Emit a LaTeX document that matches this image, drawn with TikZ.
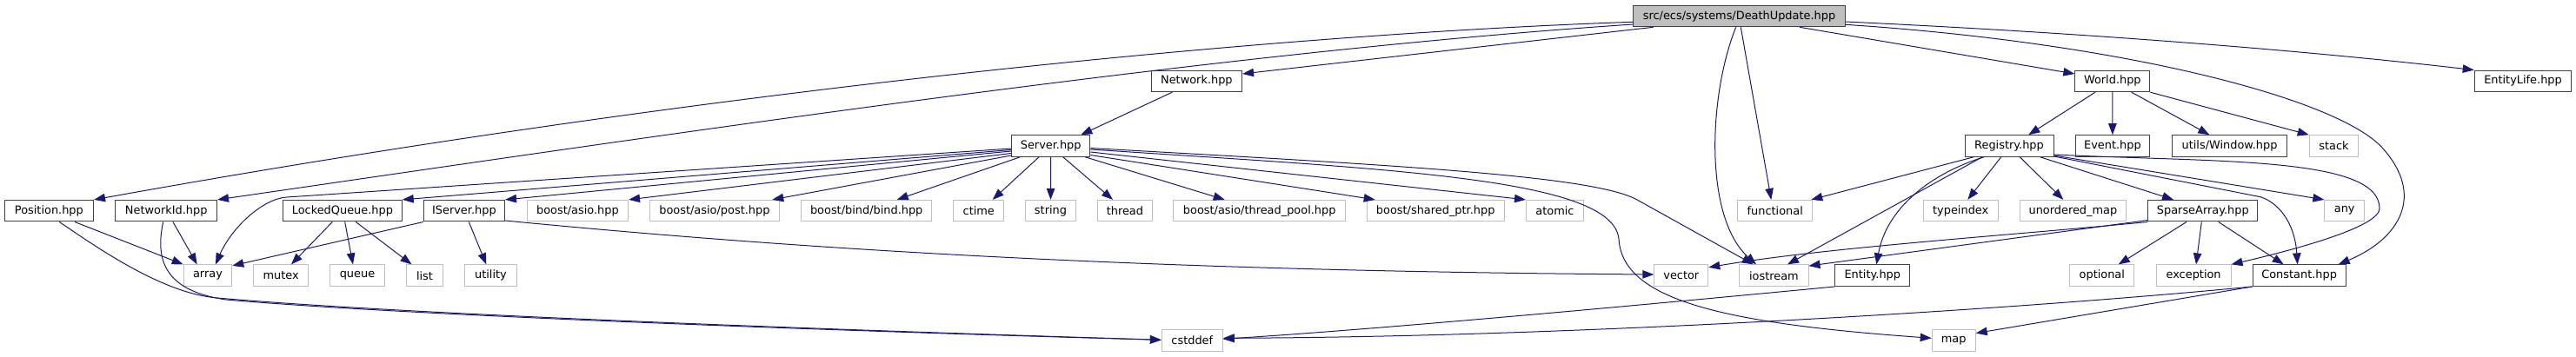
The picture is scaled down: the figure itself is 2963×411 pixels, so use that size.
\documentclass[tikz,border=0pt]{standalone}
\usepackage{fontspec}
\newfontfamily\dv{DejaVu Sans}
\usetikzlibrary{arrows.meta}
\definecolor{edgec}{HTML}{191970}
\definecolor{extc}{HTML}{BFBFBF}
\definecolor{docc}{HTML}{404040}
\definecolor{mainfill}{HTML}{BFBFBF}
\tikzset{
  box/.style={line width=1pt, minimum height=24.6pt, inner sep=0pt, font=\dv\fontsize{12.9}{15}\selectfont, text=black, anchor=center},
  doc/.style={box, draw=docc, fill=white},
  ext/.style={box, draw=extc, fill=white},
  mainnode/.style={box, draw=docc, fill=mainfill},
  e/.style={draw=edgec, line width=1pt, -{Triangle[length=13pt,width=9.5pt]}},
}
\begin{document}
\begin{tikzpicture}[x=1pt,y=-1pt]
\useasboundingbox (0,0) rectangle (2963,411);
% row 0
\node[mainnode, minimum width=243.4pt] (main) at (2000.5,18.5) {src/ecs/systems/DeathUpdate.hpp};
% row 1
\node[doc, minimum width=104.3pt] (network) at (1376.4,93.4) {Network.hpp};
\node[doc, minimum width=86pt] (world) at (2429.8,93.4) {World.hpp};
\node[doc, minimum width=111.6pt] (entitylife) at (2902,93.4) {EntityLife.hpp};
% row 2
\node[doc, minimum width=90.3pt] (server) at (1208.7,168) {Server.hpp};
\node[doc, minimum width=102pt] (registry) at (2311,168) {Registry.hpp};
\node[doc, minimum width=85.8pt] (event) at (2429.9,168) {Event.hpp};
\node[doc, minimum width=132.5pt] (window) at (2564.5,168) {utils/Window.hpp};
\node[ext, minimum width=56.6pt] (stack) at (2684.5,168) {stack};
% row 3
\node[doc, minimum width=102.3pt] (pos) at (56.4,242.7) {Position.hpp};
\node[doc, minimum width=116.7pt] (netid) at (191.2,242.7) {NetworkId.hpp};
\node[doc, minimum width=136.7pt] (lq) at (393.9,242.7) {LockedQueue.hpp};
\node[doc, minimum width=93.3pt] (iserver) at (533.9,242.7) {IServer.hpp};
\node[ext, minimum width=116.3pt] (asio) at (664.4,242.7) {boost/asio.hpp};
\node[ext, minimum width=148.7pt] (post) at (821.9,242.7) {boost/asio/post.hpp};
\node[ext, minimum width=149.7pt] (bind) at (996.7,242.7) {boost/bind/bind.hpp};
\node[ext, minimum width=58pt] (ctime) at (1125.8,242.7) {ctime};
\node[ext, minimum width=58pt] (string) at (1208.5,242.7) {string};
\node[ext, minimum width=63.3pt] (thread) at (1293.9,242.7) {thread};
\node[ext, minimum width=198.3pt] (threadpool) at (1448.7,242.7) {boost/asio/thread\_pool.hpp};
\node[ext, minimum width=158pt] (sharedptr) at (1651.2,242.7) {boost/shared\_ptr.hpp};
\node[ext, minimum width=66pt] (atomic) at (1788.5,242.7) {atomic};
\node[ext, minimum width=85.7pt] (functional) at (2041.7,242.7) {functional};
\node[ext, minimum width=86pt] (typeindex) at (2255.2,242.7) {typeindex};
\node[ext, minimum width=122.8pt] (umap) at (2384.4,242.7) {unordered\_map};
\node[doc, minimum width=126pt] (sparse) at (2533.8,242.7) {SparseArray.hpp};
\node[ext, minimum width=45.7pt] (any) at (2696.7,242.7) {any};
% row 4
\node[ext, minimum width=55.6pt] (array) at (239,317.2) {array};
\node[ext, minimum width=63.3pt] (mutex) at (323.2,317.2) {mutex};
\node[ext, minimum width=62.4pt] (queue) at (411,317.2) {queue};
\node[ext, minimum width=42pt] (list) at (488.5,317.2) {list};
\node[ext, minimum width=59.4pt] (utility) at (564.5,317.2) {utility};
\node[ext, minimum width=62pt] (vector) at (1933.8,317.2) {vector};
\node[ext, minimum width=79.2pt] (iostream) at (2040.4,317.2) {iostream};
\node[doc, minimum width=86pt] (entity) at (2153.8,317.2) {Entity.hpp};
\node[ext, minimum width=74pt] (optional) at (2417.8,317.2) {optional};
\node[ext, minimum width=85.8pt] (exception) at (2523.1,317.2) {exception};
\node[doc, minimum width=107.2pt] (constant) at (2644.6,317.2) {Constant.hpp};
% row 5
\node[ext, minimum width=69.9pt] (cstddef) at (1371.3,391.8) {cstddef};
\node[ext, minimum width=50pt] (map) at (2247.2,391.8) {map};

% main edges
\draw[e] ([yshift=-6.8pt]main.west) .. controls (1450,40) and (800,105) .. (pos.north east);
\draw[e] ([yshift=-9.5pt]main.west) .. controls (1400,60) and (800,150) .. (netid.north east);
\draw[e] ([xshift=-98.8pt]main.south) -- ([yshift=8.4pt]network.east);
\draw[e] ([xshift=1.8pt]main.south) -- ([xshift=-4.4pt]functional.north);
\draw[e] ([xshift=-3.8pt]main.south) .. controls (1965,110) and (1960,250) .. ([xshift=-20.4pt]iostream.north);
\draw[e] ([xshift=69.5pt]main.south) -- ([yshift=8.4pt]world.west);
\draw[e] ([yshift=-6.5pt]main.east) .. controls (2400,38) and (2650,58) .. (entitylife.north west);
\draw[e] ([yshift=-9.8pt]main.east) .. controls (2450,50) and (2690,115) .. (2740,170) .. controls (2790,225) and (2760,275) .. ([xshift=45.1pt]constant.north);
% network
\draw[e] ([xshift=-28.1pt]network.south) -- ([xshift=34.6pt]server.north);
% server
\draw[e] ([yshift=-3pt]server.west) -- (330,227) .. controls (300,229) and (265,265) .. ([xshift=9pt]array.north);
\draw[e] ([yshift=-4.5pt]server.west) -- (lq.north east);
\draw[e] ([yshift=-6pt]server.west) -- (iserver.north east);
\draw[e] ([yshift=-8.5pt]server.west) -- (asio.north east);
\draw[e] ([yshift=-11pt]server.west) -- ([xshift=66.4pt]post.north);
\draw[e] ([xshift=-35.4pt]server.south) -- ([xshift=35pt]bind.north);
\draw[e] ([xshift=-13.7pt]server.south) -- ([xshift=15.9pt]ctime.north);
\draw[e] (server.south) -- (string.north);
\draw[e] ([xshift=14pt]server.south) -- ([xshift=-13.9pt]thread.north);
\draw[e] ([xshift=39.6pt]server.south) -- ([xshift=-40pt]threadpool.north);
\draw[e] ([yshift=-10.5pt]server.east) -- ([xshift=-69.5pt]sharedptr.north);
\draw[e] ([yshift=-7pt]server.east) -- (atomic.north west);
\draw[e] ([yshift=-2.5pt]server.east) .. controls (1600,190) and (1833,202) .. (1883,230) -- ([xshift=-23.7pt]iostream.north);
\draw[e] ([yshift=-4pt]server.east) .. controls (1600,195) and (1855,205) .. (1862,275) .. controls (1866,345) and (1980,372) .. ([yshift=2.5pt]map.west);
% position, networkid
\draw[e] ([xshift=29.6pt]pos.south) -- (array.north west);
\draw[e] ([xshift=12pt]pos.south) .. controls (120,291) and (190,338) .. (250,343) .. controls (500,365) and (1100,384) .. ([yshift=0.5pt]cstddef.west);
\draw[e] ([xshift=7.8pt]netid.south) -- ([xshift=-12.3pt]array.north);
\draw[e] ([xshift=-3.5pt]netid.south) .. controls (178,300) and (190,335) .. (260,345) .. controls (500,366) and (1100,385) .. ([yshift=0.5pt]cstddef.west);
% lockedqueue
\draw[e] ([xshift=-11.6pt]lq.south) -- ([xshift=11.8pt]mutex.north);
\draw[e] ([xshift=2.8pt]lq.south) -- ([xshift=-5pt]queue.north);
\draw[e] ([xshift=15.4pt]lq.south) -- ([xshift=-15pt]list.north);
% iserver
\draw[e] (iserver.south west) -- ([yshift=-1.5pt]array.north east);
\draw[e] ([xshift=5.4pt]iserver.south) -- ([xshift=-5.2pt]utility.north);
\draw[e] ([yshift=1.5pt]iserver.south east) .. controls (900,285) and (1300,312) .. ([yshift=1.2pt]vector.west);
% world
\draw[e] ([xshift=-19.8pt]world.south) -- ([xshift=22.3pt]registry.north);
\draw[e] (world.south) -- (event.north);
\draw[e] ([xshift=21.9pt]world.south) -- ([xshift=-23.2pt]window.north);
\draw[e] (world.south east) -- (stack.north west);
% registry
\draw[e] ([xshift=-41pt]registry.south) -- ([xshift=41.6pt]functional.north);
\draw[e] ([xshift=-31pt]registry.south) -- ([xshift=15.6pt]iostream.north);
\draw[e] ([xshift=-29pt]registry.south) .. controls (2220,200) and (2170,240) .. ([xshift=4.5pt]entity.north);
\draw[e] ([xshift=-9.3pt]registry.south) -- ([xshift=8.1pt]typeindex.north);
\draw[e] ([xshift=12.3pt]registry.south) -- ([xshift=-11.1pt]umap.north);
\draw[e] ([xshift=35.7pt]registry.south) -- ([xshift=-33.8pt]sparse.north);
\draw[e] ([yshift=-11pt]registry.east) -- (any.north west);
\draw[e] ([yshift=-12pt]registry.east) -- (2600,226.7) .. controls (2625,235) and (2640,262) .. ([xshift=-2pt]constant.north);
\draw[e] ([yshift=-10pt]registry.east) .. controls (2550,187) and (2737,180) .. (2737,240) .. controls (2737,260) and (2650,285) .. (exception.north east);
% sparse array
\draw[e] (sparse.south west) .. controls (2300,272) and (2100,285) .. ([yshift=-3.4pt]vector.north east);
\draw[e] ([yshift=2pt]sparse.south west) -- ([yshift=-1.7pt]iostream.north east);
\draw[e] ([xshift=-18.8pt]sparse.south) -- ([xshift=18.9pt]optional.north);
\draw[e] ([xshift=-1.5pt]sparse.south) -- ([xshift=2.9pt]exception.north);
\draw[e] ([xshift=17.9pt]sparse.south) -- ([xshift=-17.9pt]constant.north);
% entity, constant
\draw[e] (entity.south west) .. controls (1900,350) and (1600,378) .. ([yshift=1.5pt]cstddef.east);
\draw[e] (constant.south west) .. controls (2300,358) and (1800,388) .. ([yshift=2.5pt]cstddef.east);
\draw[e] (constant.south west) -- ([yshift=8.2pt]map.east);
\end{tikzpicture}
\end{document}
